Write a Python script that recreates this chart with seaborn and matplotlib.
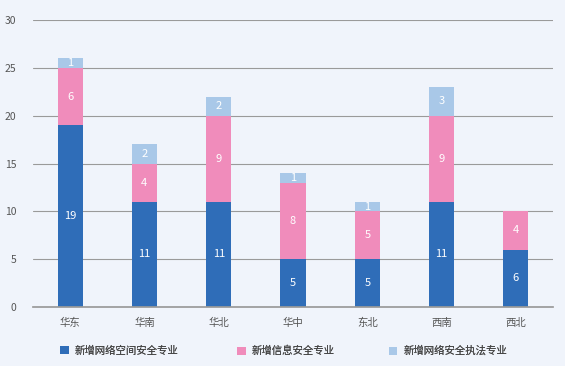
import matplotlib
matplotlib.use("Agg")
import matplotlib.pyplot as plt
import seaborn as sns
import numpy as np
import pandas as pd

categories = ["华东", "华南", "华北", "华中", "东北", "西南", "西北"]
cyber = [19, 11, 11, 5, 5, 11, 6]
infosec = [6, 4, 9, 8, 5, 9, 4]
lawenf = [1, 2, 2, 1, 1, 3, 0]
series_names = ["新增网络空间安全专业", "新增信息安全专业", "新增网络安全执法专业"]
colors = ["#2f6db8", "#f08cbb", "#a9c8e8"]
bg = "#f0f4fb"

sns.set_theme(style="white")
plt.rcParams['font.family'] = ['Noto Sans CJK SC', 'DejaVu Sans']

fig = plt.figure(figsize=(5.65, 3.66), dpi=100, facecolor=bg)
ax = fig.add_axes([33/565, 1 - 307/366, 520/565, 287/366])
ax.set_facecolor(bg)

df = pd.DataFrame({"cat": categories, "a": cyber, "b": infosec, "c": lawenf})
bottoms = np.zeros(len(categories))
for col, name, color in zip(["a", "b", "c"], series_names, colors):
    sns.barplot(data=df, x="cat", y=col, bottom=bottoms, color=color, width=0.34,
                ax=ax, label=name, saturation=1, linewidth=0)
    bottoms = bottoms + df[col].values

for i, cont in enumerate(ax.containers):
    vals = [b.get_height() for b in cont]
    labels = [f"{int(v)}" if v > 0 else "" for v in vals]
    ax.bar_label(cont, labels=labels, label_type="center", color="white", fontsize=8)

ax.set_ylim(0, 30)
ax.set_yticks([0, 5, 10, 15, 20, 25, 30])
ax.set_xlim(-0.5, len(categories) - 0.5)
ax.yaxis.grid(True, color="#9a9a9a", linewidth=0.8)
ax.set_axisbelow(True)
for s in ["top", "right", "left"]:
    ax.spines[s].set_visible(False)
ax.spines["bottom"].set_color("#9a9a9a")
ax.set_xlabel("")
ax.set_ylabel("")
ax.tick_params(axis="both", length=0, labelsize=7.5, colors="#555555")
ax.tick_params(axis="x", pad=8)
ax.tick_params(axis="y", pad=12)

handles, labs = ax.get_legend_handles_labels()
if ax.get_legend() is not None:
    ax.get_legend().remove()
lefts = [56, 233, 385]
for h, l, x in zip(handles, labs, lefts):
    leg = fig.legend([h], [l], loc="center left", bbox_to_anchor=(x/565, 1 - 351/366),
                     frameon=False, fontsize=7.5, handlelength=0.8, handleheight=0.8,
                     labelcolor="#444444", handletextpad=0.6, borderaxespad=0)
    fig.add_artist(leg)

fig.savefig("out.png", dpi=100, facecolor=bg)
